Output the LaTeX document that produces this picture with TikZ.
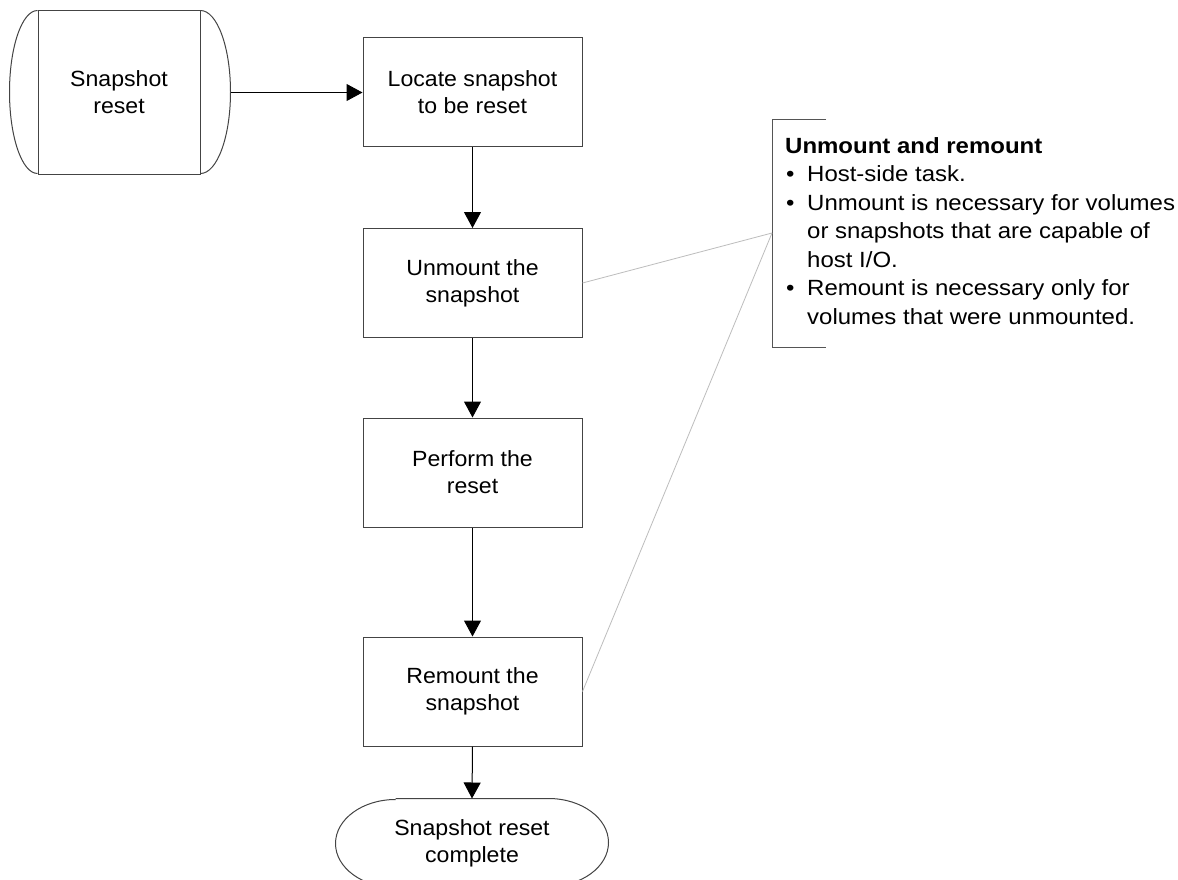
\documentclass[tikz,border=0pt]{standalone}
\usepackage{fontspec}
\setmainfont{Liberation Sans}
\newfontfamily\boxfont[FakeStretch=1.05]{Liberation Sans}
\newfontfamily\notefont[FakeStretch=1.09]{Liberation Sans}
\usetikzlibrary{arrows.meta}
\definecolor{boxgray}{HTML}{444444}
\definecolor{bracketgray}{HTML}{555555}
\definecolor{linkgray}{HTML}{BDBDBD}
\begin{document}
\begin{tikzpicture}[x=1pt,y=-1pt,
  box/.style={draw=boxgray, line width=1pt, minimum width=219pt, minimum height=109pt,
    inner sep=0pt, align=center, font=\boxfont\fontsize{22}{27}\selectfont},
  shapeline/.style={draw=boxgray, line width=1pt},
  arr/.style={-{Triangle[length=16pt,width=17pt]}, line width=1pt, black},
  linkline/.style={draw=linkgray, line width=0.8pt},
  bracket/.style={draw=bracketgray, line width=1pt}]
\useasboundingbox (0,0) rectangle (1178,880);
\fill[white] (0,0) rectangle (1178,880);
\clip (0,0) rectangle (1178,880);

% start terminator
\node[box, minimum width=162pt, minimum height=163pt] (start) at (119,92.5) {Snapshot\\reset};
\draw[shapeline] (start.north west) arc[start angle=90, end angle=270, x radius=28pt, y radius=81.5pt];
\draw[shapeline] (start.north east) arc[start angle=90, end angle=-90, x radius=30pt, y radius=81.5pt];
\coordinate (startr) at ([xshift=30pt]start.east);

% process boxes
\node[box] (locate) at (472.5,92.5) {Locate snapshot\\to be reset};
\node[box] (unmount) at (472.5,283) {Unmount the\\snapshot};
\node[box] (perform) at (472.5,472.5) {Perform the\\reset};
\node[box] (remount) at (472.5,691.5) {Remount the\\snapshot};

% end terminator
\node[box, draw=none, minimum width=272pt, minimum height=88pt] (finish) at (472,843) {Snapshot reset\\complete};
\draw[shapeline] ([xshift=60pt]finish.north west) -- ([xshift=-60pt]finish.north east)
  arc[start angle=90, end angle=-90, x radius=60pt, y radius=44pt]
  -- ([xshift=60pt]finish.south west)
  arc[start angle=270, end angle=90, x radius=60pt, y radius=44pt];

% connectors
\draw[arr] (startr) -- (locate.west);
\draw[arr] (locate.south) -- (unmount.north);
\draw[arr] (unmount.south) -- (perform.north);
\draw[arr] (perform.south) -- (remount.north);
\draw[arr] (remount.south) -- (finish.north);

% annotation
\coordinate (ann) at (772,233);
\coordinate (brtop) at (772,120);
\coordinate (brbot) at (772,347);
\draw[bracket] ([xshift=54pt]brtop) -- (brtop) -- (brbot) -- ([xshift=54pt]brbot);
\draw[linkline] (unmount.east) -- (ann);
\draw[linkline] (remount.east) -- (ann);

\node[anchor=north west, inner sep=0pt, align=left, font=\notefont\fontsize{22}{28.5}\selectfont] (notetext) at (785,137)
{\textbf{Unmount and remount}\\
\makebox[22pt][l]{\hspace*{1pt}•}Host-side task.\\
\makebox[22pt][l]{\hspace*{1pt}•}Unmount is necessary for volumes\\
\hspace*{22pt}or snapshots that are capable of\\
\hspace*{22pt}host I/O.\\
\makebox[22pt][l]{\hspace*{1pt}•}Remount is necessary only for\\
\hspace*{22pt}volumes that were unmounted.};
\end{tikzpicture}
\end{document}
